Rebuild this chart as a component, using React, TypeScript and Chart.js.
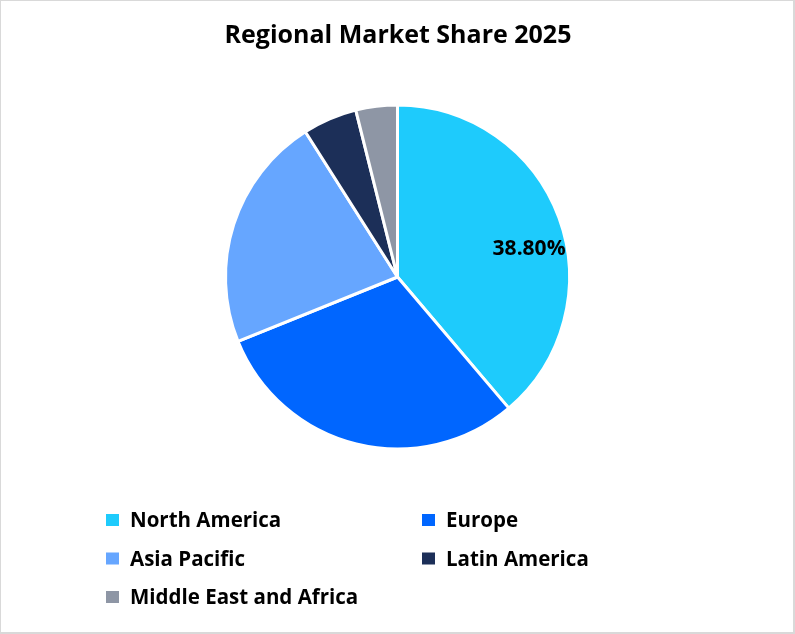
import React, { useEffect, useRef } from "react";
import { Chart, registerables } from "chart.js";

Chart.register(...registerables);

const TITLE = "Regional Market Share 2025";
const categories = ["North America", "Europe", "Asia Pacific", "Latin America", "Middle East and Africa"];
const shares = [38.8, 30.1, 22.1, 5.1, 3.9];
const colors = ["#1ECBFC", "#0066FF", "#66A6FF", "#1C2F58", "#8E96A5"];
const labelledIndex = [0];

const FONT = "'Open Sans', Lato, sans-serif";

const overlayPlugin = {
  id: "overlay",
  afterDraw(chart: any) {
    const ctx = chart.ctx as CanvasRenderingContext2D;
    const W = chart.width;
    const H = chart.height;
    ctx.save();
    // frame
    ctx.fillStyle = "#D9D9D9";
    ctx.fillRect(0, 0, W, 1);
    ctx.fillRect(0, 0, 1, H);
    ctx.fillRect(W - 2, 0, 2, H);
    ctx.fillRect(0, H - 2, W, 2);

    // title
    ctx.fillStyle = "#000000";
    ctx.font = `bold 25px ${FONT}`;
    ctx.textAlign = "center";
    ctx.textBaseline = "alphabetic";
    ctx.fillText(TITLE, 398, 43);

    // data labels
    const meta = chart.getDatasetMeta(0);
    ctx.font = `bold 21px ${FONT}`;
    ctx.textBaseline = "middle";
    labelledIndex.forEach((i) => {
      const arc = meta.data[i] as any;
      const { x, y, outerRadius } = arc.getProps(["x", "y", "outerRadius"], true);
      const lx = x + outerRadius * 0.765;
      const ly = y - outerRadius * 0.165;
      ctx.fillText(shares[i].toFixed(2) + "%", lx, ly);
    });

    // legend
    ctx.textAlign = "left";
    ctx.font = `bold 20.5px ${FONT}`;
    const colX = [106, 422];
    const rowY = [520, 558.5, 597];
    categories.forEach((c, i) => {
      const col = i % 2;
      const row = Math.floor(i / 2);
      const bx = colX[col];
      const by = rowY[row];
      ctx.fillStyle = colors[i];
      ctx.fillRect(bx, by - 6, 13, 12);
      ctx.fillStyle = "#000000";
      ctx.fillText(c, bx + 24, by + 1.5);
    });
    ctx.restore();
  },
};

export default function App() {
  const ref = useRef<HTMLCanvasElement | null>(null);
  useEffect(() => {
    document.body.style.margin = "0";
    if (!ref.current) return;
    const chart = new Chart(ref.current, {
      type: "pie",
      data: {
        labels: categories,
        datasets: [
          {
            data: shares,
            backgroundColor: colors,
            borderColor: "#FFFFFF",
            borderWidth: 3,
            radius: 172,
          } as any,
        ],
      },
      options: {
        animation: false,
        responsive: false,
        events: [],
        layout: { padding: { top: 100, bottom: 180, left: 0, right: 0 } },
        plugins: {
          legend: { display: false },
          title: { display: false },
          tooltip: { enabled: false },
        },
      },
      plugins: [overlayPlugin],
    });
    return () => chart.destroy();
  }, []);
  return (
    <div style={{ position: "absolute", left: 0, top: 0, width: 795, height: 634, background: "#fff" }}>
      <canvas ref={ref} width={795} height={634} style={{ display: "block" }} />
    </div>
  );
}
